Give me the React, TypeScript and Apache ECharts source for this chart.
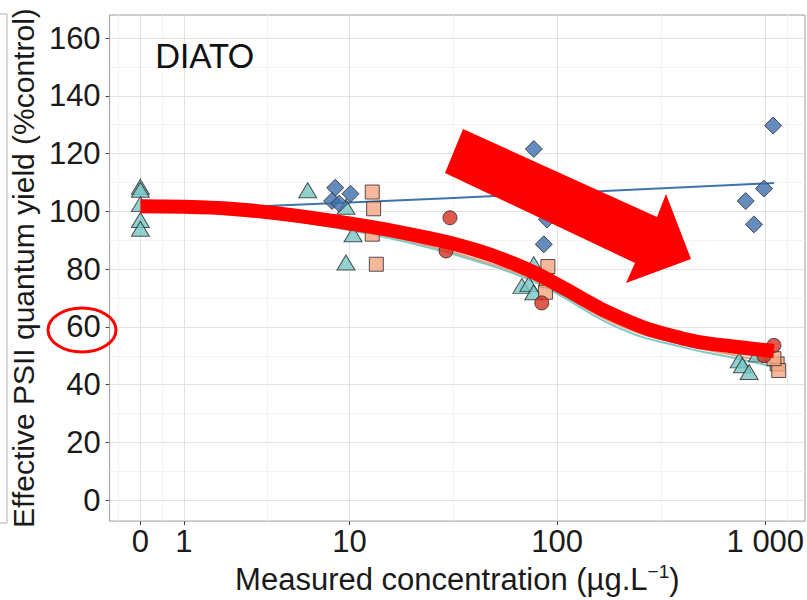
import React, { useEffect, useRef } from "react";
import * as echarts from "echarts";

// ---- Axis ticks ----
const xTickValues = [0, 1, 10, 100, 1000];
const xTickLabels = ["0", "1", "10", "100", "1 000"];
const yTickValues = [0, 20, 40, 60, 80, 100, 120, 140, 160];
const yMinorValues = [10, 30, 50, 70, 90, 110, 130, 150];

// ---- Observations (concentration in µg/L, value in % control) ----
const triangleConc = [0, 0, 0, 0, 0, 6.2, 9.6, 10.4, 9.6, 67.8, 73.2, 77.3, 77.3, 749, 777, 836, 916];
const triangleVals = [108.5, 107.5, 102.5, 97, 94, 107.3, 101.6, 92.1, 82.3, 74.2, 74.8, 81.7, 72, 48.4, 46.7, 44.4, 50.5];

const diamondConc = [8.5, 10.1, 8.2, 8.9, 77.4, 89.6, 86.4, 1090, 985, 805, 882];
const diamondVals = [108.2, 106.1, 103.6, 102.7, 121.6, 97.2, 88.6, 129.7, 107.9, 103.6, 95.5];

const squareConc = [12.9, 13.1, 12.9, 13.5, 90.4, 89, 88, 1140, 1160, 1100];
const squareVals = [106.7, 100.9, 92.1, 81.7, 80.9, 76, 72, 47.2, 44.9, 49];

const circleConc = [30.6, 29.3, 84.5, 1100, 985];
const circleVals = [97.8, 86.3, 68.3, 53.6, 50];

// ---- Fitted curves ----
const curveConc = [0, 1, 3, 10, 20, 40, 70, 100, 200, 400, 700, 1100];
const highlightVals = [101.8, 101.6, 100.4, 95.8, 92, 86.8, 80.3, 74.7, 63.2, 56, 53.2, 51.7];
const tealFitVals = [101, 100.5, 98.8, 93.5, 89, 83, 77, 71.5, 59.5, 53, 49.3, 46.2];
const salmonFitVals = [101.2, 100.8, 99.2, 94, 89.6, 83.6, 77.6, 72.2, 60.5, 54, 50.3, 47.4];
const blueFitConc = [0, 10, 100, 1100];
const blueFitVals = [100, 103.1, 106.3, 109.8];

// pseudo-log (sigma = 1) transform used by the x axis
const toT = (c: number) => Math.asinh(c / 2);
const X_MIN = -0.34;
const X_MAX = 7.347;
const Y_MIN = -7.24;
const Y_MAX = 168;

const FONT = "'Liberation Sans', Arial, sans-serif";

function pairs(xs: number[], ys: number[]) {
  return xs.map((x, i) => [toT(x), ys[i]]);
}

export default function App() {
  const ref = useRef<HTMLDivElement>(null);

  useEffect(() => {
    if (!ref.current) return;
    const chart = echarts.init(ref.current, null, { renderer: "svg" });

    const majorT = xTickValues.map(toT);
    const d0 = majorT[1] - majorT[0];
    const ext = [majorT[0] - d0, ...majorT, majorT[majorT.length - 1] + d0];
    const minorT: number[] = [];
    for (let i = 0; i < ext.length - 1; i++) {
      const m = (ext[i] + ext[i + 1]) / 2;
      if (m > X_MIN && m < X_MAX) minorT.push(m);
    }

    const gridLines: any[] = [
      ...minorT.map((t) => ({ xAxis: t, lineStyle: { color: "#f2f2f2", width: 1 } })),
      ...yMinorValues.map((v) => ({ yAxis: v, lineStyle: { color: "#f2f2f2", width: 1 } })),
      ...majorT.map((t) => ({ xAxis: t, lineStyle: { color: "#e2e2e2", width: 1 } })),
      ...yTickValues.map((v) => ({ yAxis: v, lineStyle: { color: "#e2e2e2", width: 1 } })),
    ];

    const labelFor = (v: number) => {
      let best = 0;
      let bd = Infinity;
      majorT.forEach((t, i) => {
        const d = Math.abs(t - v);
        if (d < bd) {
          bd = d;
          best = i;
        }
      });
      return xTickLabels[best];
    };

    const markerStyle = (color: string) => ({
      color,
      borderColor: "#2b2b2b",
      borderWidth: 1,
    });

    const option: any = {
      animation: false,
      backgroundColor: "#ffffff",
      grid: {
        left: 108,
        top: 15,
        width: 700,
        height: 508,
        show: true,
        borderColor: "#9a9a9a",
        borderWidth: 1,
        backgroundColor: "#ffffff",
      },
      xAxis: {
        type: "value",
        min: X_MIN,
        max: X_MAX,
        axisLine: { show: false, onZero: false },
        splitLine: { show: false },
        axisTick: {
          show: true,
          customValues: majorT,
          length: 4,
          lineStyle: { color: "#444" },
        },
        axisLabel: {
          customValues: majorT,
          formatter: (v: number) => labelFor(v),
          fontSize: 31,
          color: "#1a1a1a",
          fontFamily: FONT,
          margin: 5,
        },
        name: "Measured concentration (µg.L{sup|−1})",
        nameLocation: "middle",
        nameGap: 40,
        nameTextStyle: {
          fontSize: 31,
          color: "#1a1a1a",
          fontFamily: FONT,
          rich: {
            sup: { fontSize: 19, fontFamily: FONT, color: "#1a1a1a", padding: [0, 0, 16, 0] },
          },
        },
      },
      yAxis: {
        type: "value",
        min: Y_MIN,
        max: Y_MAX,
        axisLine: { show: false, onZero: false },
        splitLine: { show: false },
        axisTick: {
          show: true,
          customValues: yTickValues,
          length: 4,
          lineStyle: { color: "#444" },
        },
        axisLabel: {
          customValues: yTickValues,
          fontSize: 31,
          color: "#1a1a1a",
          fontFamily: FONT,
          margin: 9,
        },
        name: "Effective PSII quantum yield (%control)",
        nameLocation: "middle",
        nameGap: 62,
        nameTextStyle: { fontSize: 30, color: "#1a1a1a", fontFamily: FONT },
      },
      series: [
        {
          name: "grid",
          type: "line",
          data: [],
          silent: true,
          z: 1,
          markLine: {
            silent: true,
            symbol: ["none", "none"],
            label: { show: false },
            lineStyle: { type: "solid" },
            emphasis: { disabled: true },
            z: 1,
            data: gridLines,
          },
        },
        {
          name: "blue fit",
          type: "line",
          data: pairs(blueFitConc, blueFitVals),
          smooth: true,
          showSymbol: false,
          lineStyle: { color: "#3f73aa", width: 2 },
          z: 2,
        },
        {
          name: "salmon fit",
          type: "line",
          data: pairs(curveConc, salmonFitVals),
          smooth: true,
          showSymbol: false,
          lineStyle: { color: "#f0a07e", width: 2 },
          z: 2,
        },
        {
          name: "teal fit",
          type: "line",
          data: pairs(curveConc, tealFitVals),
          smooth: true,
          showSymbol: false,
          lineStyle: { color: "#7cc9c6", width: 2 },
          z: 2,
        },
        {
          name: "triangles",
          type: "scatter",
          symbol: "triangle",
          symbolSize: [18, 15],
          data: pairs(triangleConc, triangleVals),
          itemStyle: markerStyle("#76c5c3"),
          z: 3,
        },
        {
          name: "diamonds",
          type: "scatter",
          symbol: "diamond",
          symbolSize: 17,
          data: pairs(diamondConc, diamondVals),
          itemStyle: markerStyle("#3d6fad"),
          z: 3,
        },
        {
          name: "squares",
          type: "scatter",
          symbol: "rect",
          symbolSize: 14,
          data: pairs(squareConc, squareVals),
          itemStyle: markerStyle("#f4a582"),
          z: 3,
        },
        {
          name: "circles",
          type: "scatter",
          symbol: "circle",
          symbolSize: 14,
          data: pairs(circleConc, circleVals),
          itemStyle: markerStyle("#d7301f"),
          z: 3,
        },
        {
          name: "highlight",
          type: "line",
          data: pairs(curveConc, highlightVals),
          smooth: true,
          showSymbol: false,
          lineStyle: { color: "#ff0000", width: 14, cap: "butt" },
          z: 4,
        },
      ],
      graphic: [
        // edge of the neighbouring panel on the left
        {
          type: "rect",
          shape: { x: -20, y: 14, width: 27, height: 509 },
          style: { fill: "#ffffff", stroke: "#b0b0b0", lineWidth: 1 },
          z: 50,
        },
        {
          type: "text",
          left: 155,
          top: 38,
          style: {
            text: "DIATO",
            fontSize: 33,
            fontFamily: "Lato, 'Open Sans', sans-serif",
            fill: "#111111",
          },
          z: 60,
        },
        {
          type: "polygon",
          shape: {
            points: [
              [463, 129],
              [657, 217],
              [666, 194],
              [691, 259],
              [626, 283],
              [635, 263],
              [445, 173],
            ],
          },
          style: { fill: "#ff0000" },
          z: 100,
        },
        {
          type: "ellipse",
          shape: { cx: 82, cy: 330, rx: 34, ry: 22 },
          style: { fill: "none", stroke: "#ff0000", lineWidth: 3 },
          z: 100,
        },
      ],
    };

    chart.setOption(option);
    return () => chart.dispose();
  }, []);

  return (
    <div
      ref={ref}
      style={{ position: "fixed", left: 0, top: 0, width: 807, height: 600 }}
    />
  );
}
